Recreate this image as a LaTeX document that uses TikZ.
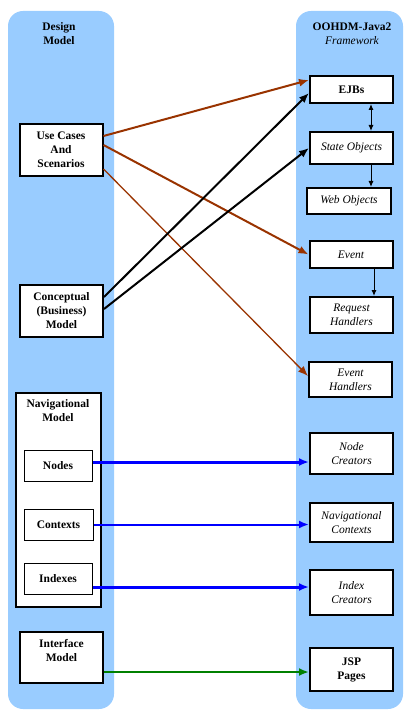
\documentclass[tikz,border=0pt]{standalone}
\usepackage{fontspec}
\setmainfont{Liberation Serif}
\usetikzlibrary{arrows.meta,positioning}
\definecolor{panelblue}{HTML}{99CCFF}
\definecolor{rust}{HTML}{993300}
\definecolor{linkgreen}{HTML}{008000}
\begin{document}
\begin{tikzpicture}[
        x = 1pt, y = -1pt,
        font = \fontsize{11.5}{14}\selectfont,
        panel/.style   = {fill=panelblue, rounded corners=15pt},
        head/.style    = {align=center, font=\fontsize{11.5}{14}\selectfont\bfseries},
        model/.style   = {draw, line width=2pt, fill=white, align=center, minimum width=83pt, font=\fontsize{11.5}{14}\selectfont\bfseries},
        part/.style    = {draw, line width=1pt, fill=white, align=center, minimum width=68pt, minimum height=31pt, font=\fontsize{11.5}{14}\selectfont\bfseries},
        impl/.style    = {draw, line width=2pt, fill=white, align=center, minimum width=83pt, font=\fontsize{11.5}{14}\selectfont\itshape},
        bigtip/.style  = {-{Latex[length=10pt,width=8pt]}},
        smalltip/.style= {-{Latex[length=6pt,width=5pt]}},
    ]
    \useasboundingbox (0,0) rectangle (409,719);
    % the two columns
    \fill[panel] (8,11) rectangle (114,709);
    \fill[panel] (296,11) rectangle (403,709);
    \node[head] (designtitle) at (59,34) {Design\\Model};
    \node[head] (frametitle) at (352,34) {OOHDM-Java2\\\normalfont\itshape Framework};

    % design model side
    \node[model, minimum height=52pt] (usecases) at (61,150) {Use Cases\\And\\Scenarios};
    \node[model, minimum height=52pt] (concept) at (61.5,311) {Conceptual\\(Business)\\Model};
    \node[model, minimum width=85pt, minimum height=214pt] (nav) at (58,500) {};
    \node[head, below=4pt of nav.north] (navtitle) {Navigational\\Model};
    \node[part] (nodes) at (58,466) {Nodes};
    \node[part, minimum width=69pt] (contexts) at (58.5,524.5) {Contexts};
    \node[part] (indexes) at (58,578.5) {Indexes};
    \node[model, minimum height=51pt] (interface) at (61.5,657.5) {Interface\\Model\\~};

    % framework side
    \node[impl, minimum height=27pt, font=\fontsize{11.5}{14}\selectfont\bfseries] (ejb) at (351.5,89.5) {EJBs};
    \node[impl, minimum height=32pt] (state) at (351.5,148) {State Objects};
    \node[impl, minimum width=84pt, minimum height=26pt] (web) at (349,201) {Web Objects};
    \node[impl, minimum height=27pt] (event) at (351,254.5) {Event};
    \node[impl, minimum height=36pt] (request) at (351.5,315) {Request\\Handlers};
    \node[impl, minimum height=35pt] (handlers) at (350.5,379.5) {Event\\Handlers};
    \node[impl, minimum height=41pt] (nodecreat) at (351.5,453.5) {Node\\Creators};
    \node[impl, minimum height=39pt] (navctx) at (351.5,522.5) {Navigational\\Contexts};
    \node[impl, minimum height=45pt] (indexcreat) at (351.5,592.5) {Index\\Creators};
    \node[impl, minimum height=43pt, font=\fontsize{11.5}{14}\selectfont\bfseries] (jsp) at (351.5,669.5) {JSP\\Pages};

    % links inside the framework
    \draw[line width=1pt, {Latex[length=6pt,width=5pt]}-{Latex[length=6pt,width=5pt]}] (ejb.south -| 371,0) -- (state.north -| 371,0);
    \draw[line width=1pt, smalltip] (state.south -| 371,0) -- (web.north -| 371,0);
    \draw[line width=1pt, smalltip] (event.south -| 374,0) -- (request.north -| 374,0);

    % design model to framework
    \draw[rust, line width=2pt, bigtip] (usecases.east |- 0,136) -- (ejb.west |- 0,80);
    \draw[rust, line width=2pt, bigtip] (usecases.east |- 0,145) -- (event.west);
    \draw[rust, line width=1.3pt, bigtip] (usecases.east |- 0,169) -- (handlers.west |- 0,376);
    \draw[line width=2pt, bigtip] (concept.east |- 0,297) -- (ejb.west |- 0,93);
    \draw[line width=2pt, bigtip] (concept.east |- 0,309) -- (state.west);
    \draw[blue, line width=3pt, bigtip] (nodes.east |- 0,462) -- (nodecreat.west |- 0,462);
    \draw[blue, line width=2pt, bigtip] (contexts.east) -- (navctx.west |- contexts.east);
    \draw[blue, line width=3pt, bigtip] (indexes.east |- 0,587) -- (indexcreat.west |- 0,587);
    \draw[linkgreen, line width=2pt, bigtip] (interface.east |- 0,672) -- (jsp.west |- 0,672);
\end{tikzpicture}
\end{document}
